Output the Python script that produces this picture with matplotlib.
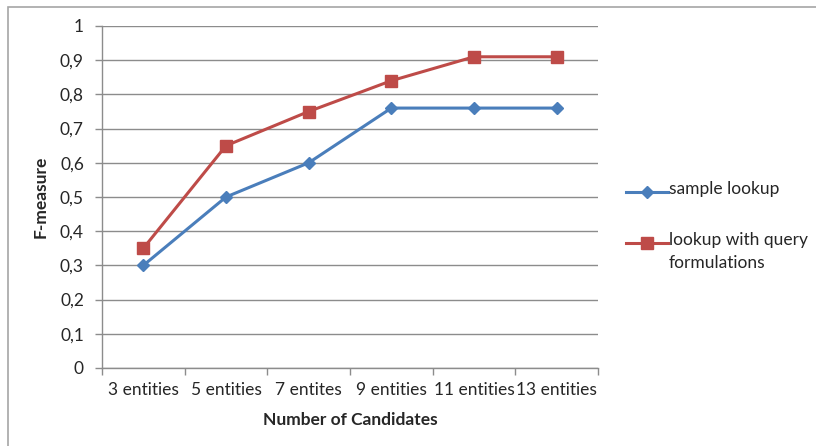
import matplotlib
matplotlib.use("Agg")
import matplotlib.pyplot as plt
from matplotlib.patches import Rectangle
from matplotlib.lines import Line2D

categories = ["3 entities", "5 entities", "7 entites", "9 entities", "11 entities", "13 entities"]
sample_lookup = [0.30, 0.50, 0.60, 0.76, 0.76, 0.76]
query_lookup = [0.35, 0.65, 0.75, 0.84, 0.91, 0.91]
series_names = ["sample lookup", "lookup with query\nformulations"]
y_ticks = [0, 0.1, 0.2, 0.3, 0.4, 0.5, 0.6, 0.7, 0.8, 0.9, 1.0]
y_labels = ["0", "0,1", "0,2", "0,3", "0,4", "0,5", "0,6", "0,7", "0,8", "0,9", "1"]

plt.rcParams["font.family"] = ["Lato", "DejaVu Sans"]
GRID = "#8c8c8c"
TEXT = "#262626"
FS = 12.5

W, H = 816, 446
fig = plt.figure(figsize=(W / 100, H / 100), dpi=100)
# chart frame
fig.patches.append(Rectangle((8 / W, -0.1), 1.2, 1 - 7 / H + 0.1,
                             transform=fig.transFigure, fill=False,
                             edgecolor="#a6a6a6", linewidth=1.2))

ax = fig.add_axes([102 / W, 1 - 368 / H, 496 / W, 342 / H])
x = list(range(len(categories)))
styles = [dict(color="#4a7ebb", marker="D", markersize=6.5),
          dict(color="#be4b48", marker="s", markersize=8)]
lines = []
for vals, name, st in zip([sample_lookup, query_lookup], series_names, styles):
    ln, = ax.plot(x, vals, linewidth=2.2, label=name, solid_joinstyle="round", **st)
    lines.append(ln)

ax.set_xlim(-0.5, len(categories) - 0.5)
ax.set_ylim(0, 1)
ax.set_yticks(y_ticks)
ax.set_yticklabels(y_labels)
ax.yaxis.grid(True, color=GRID, linewidth=1.0)
ax.set_axisbelow(True)

# category boundaries as major ticks, names centred between them
ax.set_xticks([i - 0.5 for i in range(len(categories) + 1)])
ax.set_xticklabels([])
ax.set_xticks(x, minor=True)
ax.set_xticklabels(categories, minor=True)
ax.tick_params(axis="x", which="minor", length=0, pad=10, labelsize=FS, labelcolor=TEXT)
ax.tick_params(axis="x", which="major", length=5, color=GRID, width=1.0)
ax.tick_params(axis="y", length=5, color=GRID, width=1.0, pad=8, labelsize=FS, labelcolor=TEXT)

for side in ("top", "right"):
    ax.spines[side].set_visible(False)
for side in ("left", "bottom"):
    ax.spines[side].set_color(GRID)
    ax.spines[side].set_linewidth(1.0)

ax.set_xlabel("Number of Candidates", fontsize=FS, fontweight="bold", color=TEXT, labelpad=10)
ax.set_ylabel("F-measure", fontsize=FS, fontweight="bold", color=TEXT, labelpad=8)

# legend: handle aligned with the first line of each entry
legend_rows = [192, 243]
for ln, row in zip(lines, legend_rows):
    yf = 1 - row / H
    fig.add_artist(Line2D([626 / W, 668 / W], [yf, yf], transform=fig.transFigure,
                          color=ln.get_color(), linewidth=ln.get_linewidth()))
    fig.add_artist(Line2D([647 / W], [yf], transform=fig.transFigure,
                          color=ln.get_color(), marker=ln.get_marker(),
                          markersize=ln.get_markersize(), linestyle="none"))
    fig.text(669 / W, 1 - (row - 11) / H, ln.get_label(), fontsize=FS, color=TEXT,
             ha="left", va="top", linespacing=1.5)

fig.savefig("out.png", dpi=100)
